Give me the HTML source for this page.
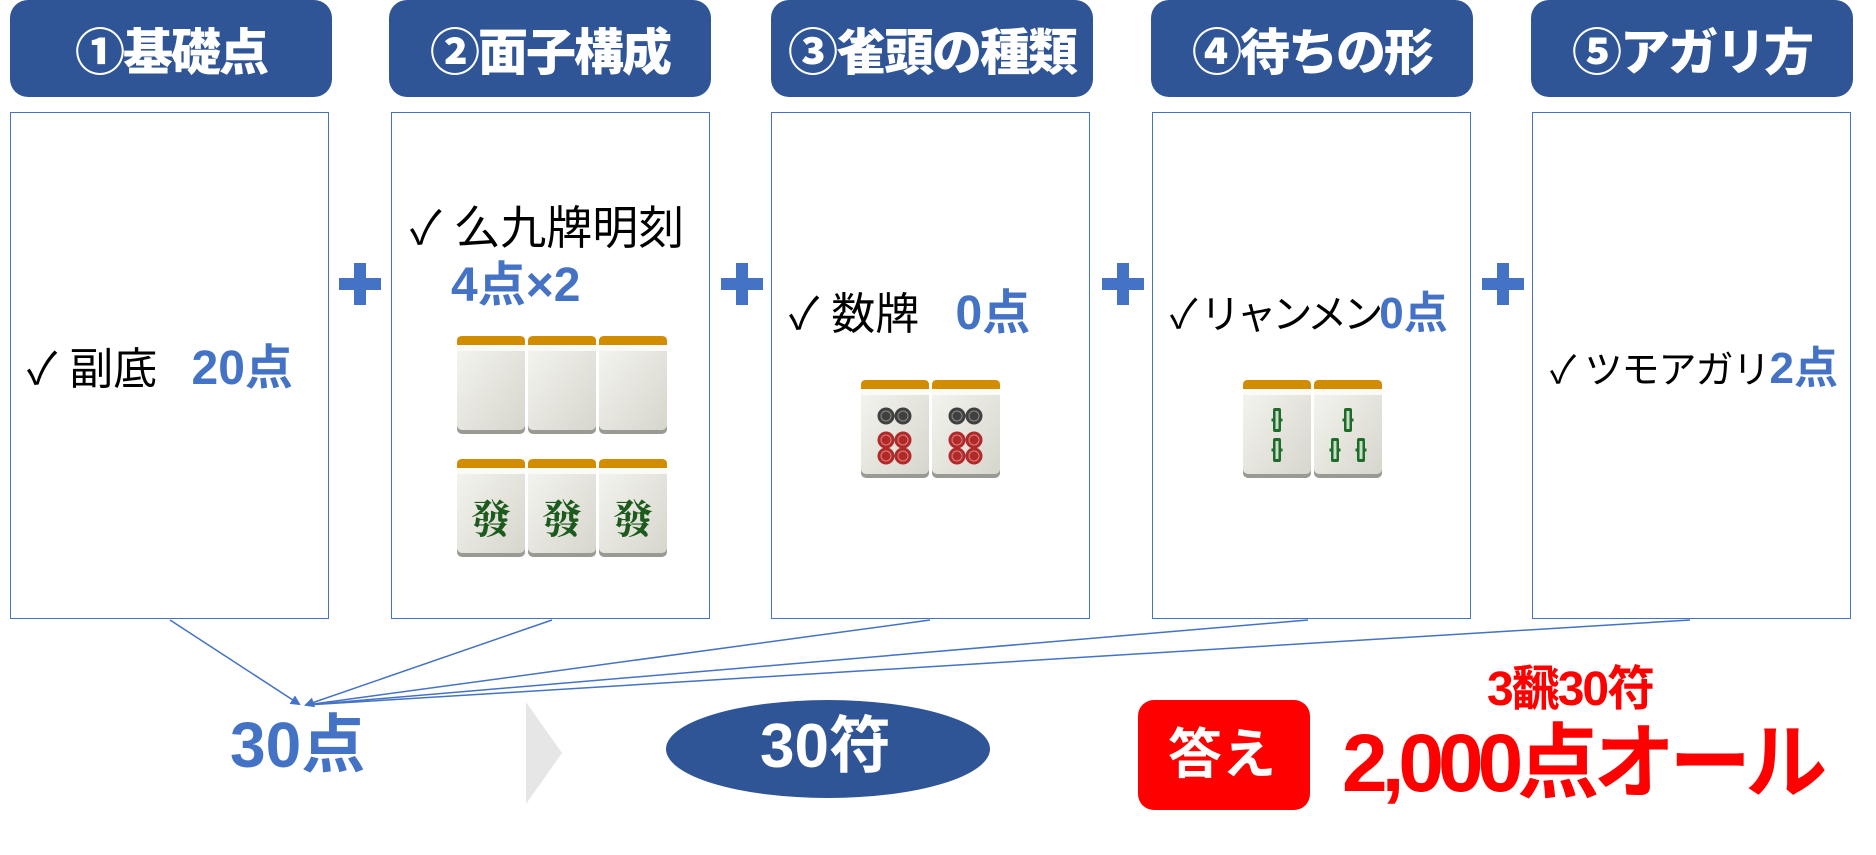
<!DOCTYPE html>
<html><head><meta charset="utf-8"><style>
body{margin:0;width:1876px;height:855px;background:#fff;position:relative;overflow:hidden;font-family:"Liberation Sans","Noto Sans CJK JP",sans-serif}
.h{position:absolute;top:0;height:97px;width:322px;background:#2f5597;border-radius:18px;color:#fff;font-weight:900;font-size:50px;display:flex;align-items:center;justify-content:center;letter-spacing:-2px}
.b{position:absolute;top:112px;height:507px;width:319px;border:1.5px solid #4472c4;box-sizing:border-box}
.t{position:absolute;font-size:44px;color:#000;white-space:nowrap;line-height:1}
.bl{color:#4472c4;font-weight:bold}
.p{position:absolute;width:42px;height:42px}
.p:before{content:"";position:absolute;left:0;top:15px;width:42px;height:12px;background:#4472c4}
.p:after{content:"";position:absolute;left:15px;top:0;width:12px;height:42px;background:#4472c4}
.tile{position:absolute;width:70px;height:99px}
</style></head><body>
<div class="h" style="left:10px">①基礎点</div>
<div class="h" style="left:389px">②面子構成</div>
<div class="h" style="left:771px">③雀頭の種類</div>
<div class="h" style="left:1151px">④待ちの形</div>
<div class="h" style="left:1531px">⑤アガリ方</div>

<div class="b" style="left:10px"></div>
<div class="b" style="left:391px"></div>
<div class="b" style="left:771px"></div>
<div class="b" style="left:1152px"></div>
<div class="b" style="left:1532px"></div>

<div class="p" style="left:339px;top:263px"></div>
<div class="p" style="left:721px;top:263px"></div>
<div class="p" style="left:1102px;top:263px"></div>
<div class="p" style="left:1482px;top:263px"></div>

<div class="t" style="left:27px;top:345px">✓ 副底 <span class="bl" style="margin-left:22px;font-size:48px">20点</span></div>
<div class="t" style="left:410px;top:205px;font-size:46px">✓ 么九牌明刻</div>
<div class="t bl" style="left:451px;top:262px;font-size:48px">4点×2</div>
<div class="t" style="left:789px;top:290px">✓ 数牌 <span class="bl" style="margin-left:24px;font-size:48px">0点</span></div>
<div class="t" style="left:1170px;top:292px;font-size:40px;letter-spacing:-4px">✓ リャンメン<span class="bl" style="letter-spacing:0;font-size:44px">0点</span></div>
<div class="t" style="left:1550px;top:347px;font-size:38px;letter-spacing:-1px">✓ ツモアガリ<span class="bl" style="letter-spacing:0;font-size:44px">2点</span></div>

<svg width="0" height="0" style="position:absolute">
<defs>
<linearGradient id="g" x1="0" y1="0" x2="1" y2="1"><stop offset="0" stop-color="#f6f6f1"/><stop offset="1" stop-color="#d6d6cd"/></linearGradient>
<g id="base">
<rect x="1" y="2" width="68" height="96" rx="5" fill="#9a9a94"/>
<rect x="1" y="0" width="68" height="94" rx="5" fill="url(#g)"/>
<path d="M1 9 V5 Q1 0 6 0 H64 Q69 0 69 5 V9 Z" fill="#d18c00"/>
<rect x="1" y="9" width="68" height="6" fill="#fafaf7"/>
</g>
<g id="pc"><circle r="8.5" fill="#404040"/><circle r="5" fill="none" stroke="#888" stroke-width="1"/></g>
<g id="rc"><circle r="8.5" fill="#b02a2a"/><circle r="5" fill="none" stroke="#e08080" stroke-width="1"/></g>
<g id="st"><rect x="-4" y="-12" width="8" height="24" rx="2" fill="#1f6b2a"/><rect x="-5.5" y="-1.5" width="11" height="3" fill="#1f6b2a"/><rect x="-1.5" y="-9" width="3" height="18" fill="#c8e0c8"/></g>
</defs></svg>

<svg class="tile" style="left:456px;top:336px"><use href="#base"/></svg>
<svg class="tile" style="left:527px;top:336px"><use href="#base"/></svg>
<svg class="tile" style="left:598px;top:336px"><use href="#base"/></svg>
<svg class="tile" style="left:456px;top:459px"><use href="#base"/><text x="35" y="74" text-anchor="middle" font-size="40" font-weight="bold" fill="#1d5a1d" font-family="Noto Serif CJK SC,serif">發</text></svg>
<svg class="tile" style="left:527px;top:459px"><use href="#base"/><text x="35" y="74" text-anchor="middle" font-size="40" font-weight="bold" fill="#1d5a1d" font-family="Noto Serif CJK SC,serif">發</text></svg>
<svg class="tile" style="left:598px;top:459px"><use href="#base"/><text x="35" y="74" text-anchor="middle" font-size="40" font-weight="bold" fill="#1d5a1d" font-family="Noto Serif CJK SC,serif">發</text></svg>

<svg class="tile" style="left:860px;top:380px"><use href="#base"/><use href="#pc" x="26" y="36"/><use href="#pc" x="43" y="36"/><use href="#rc" x="26" y="60"/><use href="#rc" x="43" y="60"/><use href="#rc" x="26" y="76"/><use href="#rc" x="43" y="76"/></svg>
<svg class="tile" style="left:931px;top:380px"><use href="#base"/><use href="#pc" x="26" y="36"/><use href="#pc" x="43" y="36"/><use href="#rc" x="26" y="60"/><use href="#rc" x="43" y="60"/><use href="#rc" x="26" y="76"/><use href="#rc" x="43" y="76"/></svg>

<svg class="tile" style="left:1242px;top:380px"><use href="#base"/><use href="#st" x="35" y="40"/><use href="#st" x="35" y="70"/></svg>
<svg class="tile" style="left:1313px;top:380px"><use href="#base"/><use href="#st" x="35" y="40"/><use href="#st" x="22" y="70"/><use href="#st" x="48" y="70"/></svg>

<svg style="position:absolute;left:0;top:0" width="1876" height="855">
<defs><marker id="ar" markerWidth="10" markerHeight="10" refX="8" refY="5" orient="auto" markerUnits="userSpaceOnUse"><path d="M0 0 L10 5 L0 10 Z" fill="#4472c4"/></marker></defs>
<g stroke="#4472c4" stroke-width="1.5" fill="none">
<line x1="170" y1="620" x2="299" y2="704" marker-end="url(#ar)"/>
<line x1="552" y1="620" x2="306" y2="705" marker-end="url(#ar)"/>
<line x1="930" y1="620" x2="306" y2="705"/>
<line x1="1308" y1="620" x2="306" y2="705"/>
<line x1="1690" y1="620" x2="306" y2="705"/>
</g>
<polygon points="526,702 562,753 526,804" fill="#e6e6e6"/>
<ellipse cx="828" cy="749" rx="162" ry="49" fill="#2f5597"/>
<rect x="1138" y="700" width="172" height="110" rx="16" fill="#ff0000"/>
</svg>

<div class="t bl" style="left:230px;top:713px;font-size:64px">30点</div>
<div class="t" style="left:760px;top:716px;font-size:62px;color:#fff;font-weight:bold">30符</div>
<div class="t" style="left:1168px;top:728px;font-size:54px;color:#fff;font-weight:bold">答え</div>
<div class="t" style="left:1487px;top:666px;font-size:48px;color:#f00;font-weight:bold;letter-spacing:-2px">3飜30符</div>
<div class="t" style="left:1342px;top:723px;font-size:82px;color:#f00;font-weight:bold;letter-spacing:-6px">2,000点オール</div>
</body></html>
